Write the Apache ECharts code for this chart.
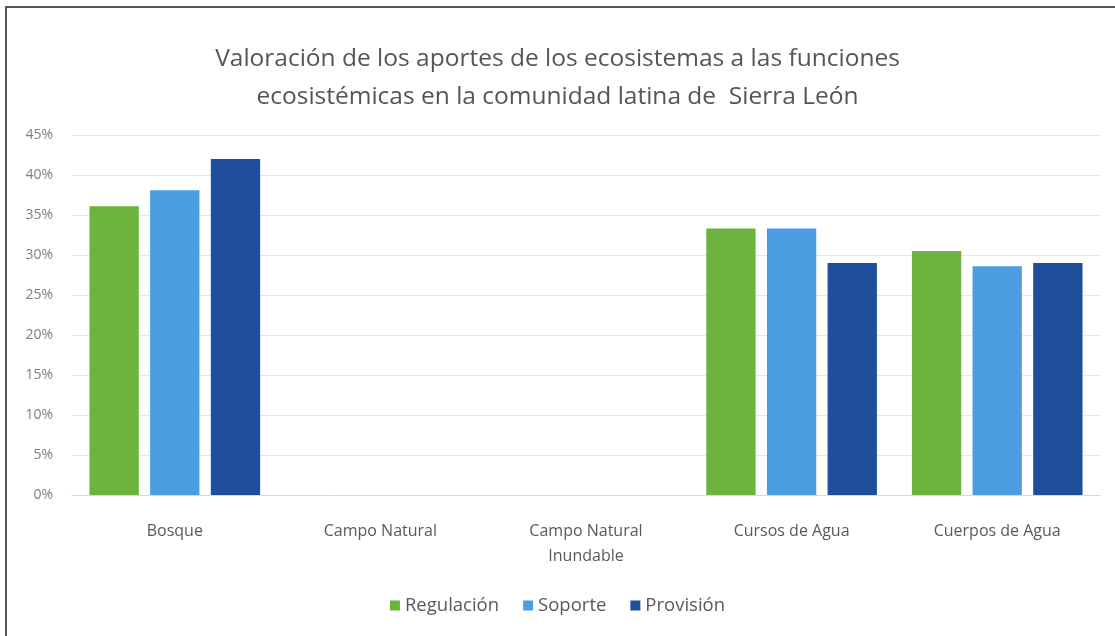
<!DOCTYPE html>
<html>
<head>
<meta charset="utf-8">
<script src="https://cdn.jsdelivr.net/npm/echarts@6/dist/echarts.min.js"></script>
<style>
html,body{margin:0;padding:0;background:#fff;}
#chart{width:1115px;height:636px;}
</style>
</head>
<body>
<div id="chart"></div>
<script>
const categories = ['Bosque', 'Campo Natural', 'Campo Natural\nInundable', 'Cursos de Agua', 'Cuerpos de Agua'];
const seriesNames = ['Regulación', 'Soporte', 'Provisión'];
const regulacion = [36.1, 0, 0, 33.3, 30.5];
const soporte = [38.1, 0, 0, 33.3, 28.6];
const provision = [42.0, 0, 0, 29.0, 29.0];
const yTicks = [0, 5, 10, 15, 20, 25, 30, 35, 40, 45];
const titleText = 'Valoración de los aportes de los ecosistemas a las funciones\necosistémicas en la comunidad latina de  Sierra León';

const colors = ['#6db33f', '#4d9de3', '#1f4e9c'];
const FONT = '"Open Sans", sans-serif';

const chart = echarts.init(document.getElementById('chart'), null, {renderer: 'canvas'});
const data = [regulacion, soporte, provision];
chart.setOption({
  animation: false,
  backgroundColor: '#ffffff',
  color: colors,
  title: {
    text: titleText,
    left: 'center',
    top: 40,
    padding: [0, 0, 0, 18],
    textStyle: {
      fontFamily: FONT,
      fontSize: 24.5,
      fontWeight: 'normal',
      color: '#555555',
      lineHeight: 38
    }
  },
  graphic: [{
    type: 'rect',
    shape: {x: 6, y: 7, width: 1300, height: 800},
    style: {fill: 'none', stroke: '#222', lineWidth: 1.5},
    silent: true
  }],
  legend: {
    data: seriesNames,
    bottom: 16,
    left: 'center',
    padding: [5, 0, 5, 10],
    itemWidth: 10,
    itemHeight: 10,
    itemGap: 24,
    icon: 'rect',
    textStyle: {fontFamily: FONT, fontSize: 18.5, color: '#595959'}
  },
  grid: {left: 72, right: 15, top: 135, bottom: 141, containLabel: false},
  xAxis: {
    type: 'category',
    data: categories,
    axisLine: {show: true, lineStyle: {color: '#d9d9d9', width: 1}},
    axisTick: {show: false},
    axisLabel: {
      fontFamily: FONT,
      fontSize: 16,
      color: '#595959',
      margin: 24,
      lineHeight: 25,
      interval: 0
    }
  },
  yAxis: {
    type: 'value',
    min: 0,
    max: 45,
    interval: 5,
    axisLine: {show: false},
    axisTick: {show: false},
    splitLine: {lineStyle: {color: '#e8e8e8', width: 1}},
    axisLabel: {
      fontFamily: FONT,
      fontSize: 14,
      color: '#808080',
      margin: 19,
      formatter: v => yTicks.includes(v) ? v + '%' : ''
    }
  },
  series: seriesNames.map((name, i) => ({
    name: name,
    type: 'bar',
    data: data[i],
    barGap: '23%',
    barCategoryGap: '17%',
    itemStyle: {color: colors[i]}
  }))
});
</script>
</body>
</html>
